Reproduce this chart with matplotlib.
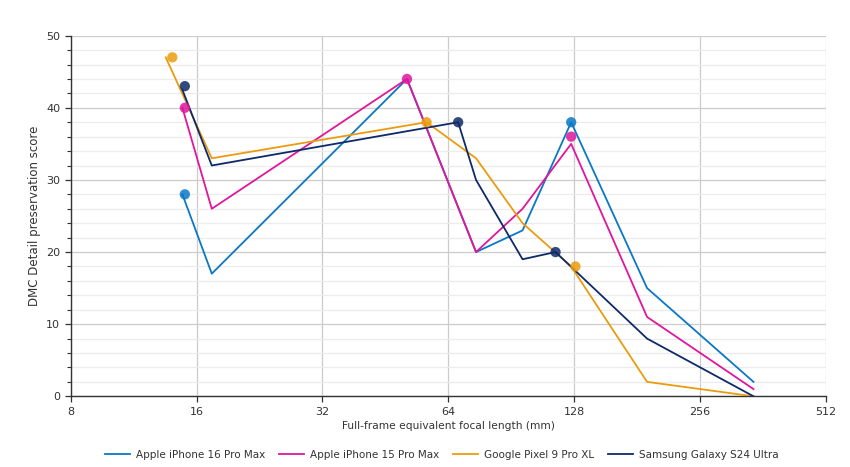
import matplotlib.pyplot as plt
from matplotlib.ticker import FixedLocator, MultipleLocator

plt.rcParams['font.family'] = ['DejaVu Sans']

names = ["Apple iPhone 16 Pro Max", "Apple iPhone 15 Pro Max",
         "Google Pixel 9 Pro XL", "Samsung Galaxy S24 Ultra"]
colors = ["#0a78c6", "#e0169c", "#ea9c0e", "#0e2a68"]

# line vertices (focal length in mm, score)
x_iphone16 = [14.8, 17.4, 51, 74.6, 96.4, 126, 191.4, 344]
y_iphone16 = [28, 17, 44, 20, 23, 38, 15, 2]
x_iphone15 = [14.8, 17.4, 51, 74.6, 96.4, 126, 191.4, 344]
y_iphone15 = [40, 26, 44, 20, 26, 35, 11, 1]
x_pixel9 = [13.5, 17.4, 56.8, 74.6, 96.4, 126, 191.4, 344]
y_pixel9 = [47, 33, 38, 33, 24, 18, 2, 0]
x_s24 = [14.8, 17.4, 67.6, 74.6, 96.4, 115.6, 191.4, 344]
y_s24 = [42.5, 32, 38, 30, 19, 20, 8, 0]

# marker points
mx_iphone16 = [15, 126]
my_iphone16 = [28, 38]
mx_iphone15 = [15, 51, 126]
my_iphone15 = [40, 44, 36]
mx_pixel9 = [14, 56.8, 129]
my_pixel9 = [47, 38, 18]
mx_s24 = [15, 67.6, 115.6]
my_s24 = [43, 38, 20]

lines_x = [x_iphone16, x_iphone15, x_pixel9, x_s24]
lines_y = [y_iphone16, y_iphone15, y_pixel9, y_s24]
marks_x = [mx_iphone16, mx_iphone15, mx_pixel9, mx_s24]
marks_y = [my_iphone16, my_iphone15, my_pixel9, my_s24]

xticks = [8, 16, 32, 64, 128, 256, 512]

fig = plt.figure(figsize=(8.5, 4.67), dpi=100)
ax = fig.add_axes([0.0832, 0.1514, 0.8882, 0.7722])

ax.set_xscale('log', base=2)
ax.set_xlim(8, 512)
ax.set_ylim(0, 50)

for i in range(4):
    ax.plot(lines_x[i], lines_y[i], color=colors[i], lw=1.3, label=names[i], zorder=3)
    ax.scatter(marks_x[i], marks_y[i], s=55, color=colors[i], alpha=0.85,
               edgecolors='none', zorder=4)

ax.set_xticks(xticks, [str(t) for t in xticks])
ax.xaxis.set_minor_locator(FixedLocator([]))
ax.yaxis.set_major_locator(MultipleLocator(10))
ax.yaxis.set_minor_locator(MultipleLocator(2))

ax.grid(which='major', color='#cccccc', lw=0.9, zorder=0)
ax.grid(which='minor', axis='y', color='#ececec', lw=0.9, zorder=0)
ax.set_axisbelow(True)

for s in ['top', 'right']:
    ax.spines[s].set_visible(False)
for s in ['left', 'bottom']:
    ax.spines[s].set_color('#333333')
    ax.spines[s].set_linewidth(1.0)

ax.tick_params(axis='both', which='major', labelsize=8, colors='#333333', length=4, width=0.9)
ax.tick_params(axis='y', which='minor', length=3, width=0.8, colors='#333333')

ax.set_xlabel("Full-frame equivalent focal length (mm)", fontsize=7.7, color='#333333', labelpad=3)
ax.set_ylabel("DMC Detail preservation score", fontsize=8.5, color='#333333', labelpad=4)

fig.legend(loc='lower center', bbox_to_anchor=(0.52, -0.005), ncol=4, frameon=False,
           fontsize=7.5, handlelength=2.4, handletextpad=0.6, columnspacing=1.3,
           labelcolor='#333333')

fig.savefig("out.png", dpi=100)
